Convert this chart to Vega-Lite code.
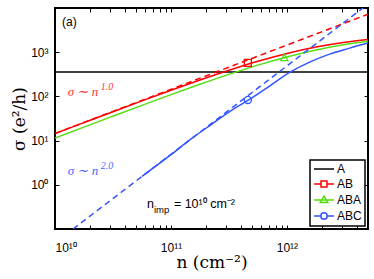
{
  "$schema": "https://vega.github.io/schema/vega-lite/v6.json",
  "width": 313,
  "height": 221,
  "autosize": "none",
  "padding": {"left": 55, "top": 8, "right": 6, "bottom": 50},
  "background": "white",
  "config": {
    "view": {"stroke": "black", "strokeWidth": 2},
    "axis": {
      "domain": false, "grid": false, "tickColor": "black", "tickSize": -4, "tickWidth": 1,
      "labelColor": "black", "labelFont": "Liberation Sans", "labelFontSize": 12,
      "titleFont": "DejaVu Serif", "titleFontSize": 17, "titleFontWeight": "normal", "titleColor": "black"
    }
  },
  "datasets": {
    "curves": [
      {"series": "A", "n": 1e10, "s": 357}, {"series": "A", "n": 5e12, "s": 357},
      {"series": "AB", "n": 1e10, "s": 14.4}, {"series": "AB", "n": 1.778e10, "s": 25.5}, {"series": "AB", "n": 3.162e10, "s": 45.1},
      {"series": "AB", "n": 5.623e10, "s": 79.1}, {"series": "AB", "n": 1e11, "s": 137.5}, {"series": "AB", "n": 1.778e11, "s": 235},
      {"series": "AB", "n": 3.162e11, "s": 391}, {"series": "AB", "n": 5.623e11, "s": 624}, {"series": "AB", "n": 1e12, "s": 939},
      {"series": "AB", "n": 1.778e12, "s": 1311}, {"series": "AB", "n": 3.162e12, "s": 1686}, {"series": "AB", "n": 5e12, "s": 1950},
      {"series": "ABA", "n": 1e10, "s": 11.4}, {"series": "ABA", "n": 1.778e10, "s": 20.2}, {"series": "ABA", "n": 3.162e10, "s": 35.7},
      {"series": "ABA", "n": 5.623e10, "s": 62.8}, {"series": "ABA", "n": 1e11, "s": 109.5}, {"series": "ABA", "n": 1.778e11, "s": 188},
      {"series": "ABA", "n": 3.162e11, "s": 315}, {"series": "ABA", "n": 5.623e11, "s": 510}, {"series": "ABA", "n": 1e12, "s": 780},
      {"series": "ABA", "n": 1.778e12, "s": 1120}, {"series": "ABA", "n": 3.162e12, "s": 1490}, {"series": "ABA", "n": 5e12, "s": 1765},
      {"series": "ABC", "n": 5.623e10, "s": 1.55}, {"series": "ABC", "n": 1e11, "s": 4.8}, {"series": "ABC", "n": 1.46e11, "s": 10.5},
      {"series": "ABC", "n": 2.239e11, "s": 23.4}, {"series": "ABC", "n": 3.228e11, "s": 46}, {"series": "ABC", "n": 4.634e11, "s": 82},
      {"series": "ABC", "n": 7.13e11, "s": 174}, {"series": "ABC", "n": 1.072e12, "s": 357}, {"series": "ABC", "n": 1.585e12, "s": 603},
      {"series": "ABC", "n": 2.239e12, "s": 871}, {"series": "ABC", "n": 3.162e12, "s": 1148}, {"series": "ABC", "n": 3.981e12, "s": 1380},
      {"series": "ABC", "n": 5e12, "s": 1622}
    ],
    "dashed": [
      {"series": "AB", "n": 1e10, "s": 14.5}, {"series": "AB", "n": 5e12, "s": 7250},
      {"series": "ABC", "n": 1.43e10, "s": 0.1}, {"series": "ABC", "n": 4.52e12, "s": 10000}
    ],
    "markers": [
      {"series": "AB", "n": 4.6e11, "s": 575},
      {"series": "ABA", "n": 9.5e11, "s": 760},
      {"series": "ABC", "n": 4.6e11, "s": 83}
    ]
  },
  "layer": [
    {
      "data": {"name": "curves"},
      "mark": {"type": "line", "strokeWidth": 1.5, "interpolate": "monotone", "clip": true},
      "encoding": {
        "x": {"field": "n", "type": "quantitative",
          "scale": {"type": "log", "domain": [1e10, 5e12], "nice": false},
          "axis": {"orient": "bottom", "values": [1e10,2e10,3e10,4e10,5e10,6e10,7e10,8e10,9e10,1e11,2e11,3e11,4e11,5e11,6e11,7e11,8e11,9e11,1e12,2e12,3e12,4e12,5e12],
            "labelExpr": "datum.value == 1e10 ? '10¹⁰' : datum.value == 1e11 ? '10¹¹' : datum.value == 1e12 ? '10¹²' : ''",
            "labelPadding": 17, "title": "n (cm⁻²)", "titlePadding": 1}},
        "y": {"field": "s", "type": "quantitative",
          "scale": {"type": "log", "domain": [0.1, 10000], "nice": false},
          "axis": {"orient": "left", "values": [1, 10, 100, 1000],
            "labelExpr": "datum.value == 1 ? '10⁰' : datum.value == 10 ? '10¹' : datum.value == 100 ? '10²' : '10³'",
            "labelPadding": 11, "title": "σ (e²/h)", "titlePadding": 2}},
        "color": {"field": "series", "type": "nominal",
          "scale": {"domain": ["A", "AB", "ABA", "ABC"], "range": ["#000000", "#ff0000", "#55dd11", "#3355ff"]},
          "legend": {
            "orient": "bottom-right", "offset": 3, "title": null,
            "fillColor": "white", "strokeColor": "black", "padding": 3,
            "labelFont": "Liberation Sans", "labelFontSize": 12, "labelColor": "black", "labelOffset": 7,
            "symbolSize": 100, "symbolOffset": 5, "symbolStrokeWidth": 1.5, "rowPadding": 3,
            "encode": {
              "legend": {"update": {"strokeWidth": {"value": 1.5}}},
              "symbols": {"update": {
                "shape": {"signal": "datum.value === 'A' ? 'M-2,0H2' : datum.value === 'AB' ? 'M-2,0H-0.6M0.6,0H2M-0.6,-0.6H0.6V0.6H-0.6Z' : datum.value === 'ABA' ? 'M-2,0H2M0,-0.76L0.76,0.5H-0.76Z' : 'M-2,0H-0.64M0.64,0H2M0.64,0A0.64,0.64,0,1,1,-0.64,0A0.64,0.64,0,1,1,0.64,0'"},
                "fill": {"value": "transparent"}
              }}
            }
          }}
      }
    },
    {
      "data": {"name": "dashed"},
      "mark": {"type": "line", "strokeWidth": 1.5, "strokeDash": [6, 4], "clip": true},
      "encoding": {
        "x": {"field": "n", "type": "quantitative",
          "scale": {"type": "log", "domain": [1e10, 5e12], "nice": false},
          "axis": {"orient": "top", "values": [1e10,2e10,3e10,4e10,5e10,6e10,7e10,8e10,9e10,1e11,2e11,3e11,4e11,5e11,6e11,7e11,8e11,9e11,1e12,2e12,3e12,4e12,5e12], "labels": false, "title": null}},
        "y": {"field": "s", "type": "quantitative",
          "scale": {"type": "log", "domain": [0.1, 10000], "nice": false},
          "axis": {"orient": "right", "values": [1, 10, 100, 1000], "labels": false, "title": null}},
        "color": {"field": "series", "type": "nominal", "legend": null}
      }
    },
    {
      "data": {"name": "markers"},
      "mark": {"type": "point", "filled": false, "strokeWidth": 1.3, "size": 50, "opacity": 1},
      "encoding": {
        "x": {"field": "n", "type": "quantitative", "axis": null},
        "y": {"field": "s", "type": "quantitative", "axis": null},
        "color": {"field": "series", "type": "nominal", "legend": null},
        "shape": {"field": "series", "type": "nominal", "scale": {"domain": ["AB", "ABA", "ABC"], "range": ["square", "triangle-up", "circle"]}, "legend": null}
      }
    },
    {
      "data": {"values": [{"n": 1.29e10, "s": 127, "t": "σ ∼ n", "sup": "1.0"}]},
      "mark": {"type": "text", "align": "left", "baseline": "middle", "font": "Liberation Serif", "fontStyle": "italic", "fontSize": 13, "color": "#ff3333"},
      "encoding": {
        "x": {"field": "n", "type": "quantitative", "axis": null},
        "y": {"field": "s", "type": "quantitative", "axis": null},
        "text": {"field": "t"}
      }
    },
    {
      "data": {"values": [{"n": 1.29e10, "s": 127, "t": "σ ∼ n", "sup": "1.0"}]},
      "mark": {"type": "text", "align": "left", "baseline": "middle", "font": "Liberation Serif", "fontStyle": "italic", "fontSize": 10, "dx": 33, "dy": -5, "color": "#ff3333"},
      "encoding": {
        "x": {"field": "n", "type": "quantitative", "axis": null},
        "y": {"field": "s", "type": "quantitative", "axis": null},
        "text": {"field": "sup"}
      }
    },
    {
      "data": {"values": [{"n": 1.29e10, "s": 2.1, "t": "σ ∼ n", "sup": "2.0"}]},
      "mark": {"type": "text", "align": "left", "baseline": "middle", "font": "Liberation Serif", "fontStyle": "italic", "fontSize": 13, "color": "#4a66ff"},
      "encoding": {
        "x": {"field": "n", "type": "quantitative", "axis": null},
        "y": {"field": "s", "type": "quantitative", "axis": null},
        "text": {"field": "t"}
      }
    },
    {
      "data": {"values": [{"n": 1.29e10, "s": 2.1, "t": "σ ∼ n", "sup": "2.0"}]},
      "mark": {"type": "text", "align": "left", "baseline": "middle", "font": "Liberation Serif", "fontStyle": "italic", "fontSize": 10, "dx": 33, "dy": -5, "color": "#4a66ff"},
      "encoding": {
        "x": {"field": "n", "type": "quantitative", "axis": null},
        "y": {"field": "s", "type": "quantitative", "axis": null},
        "text": {"field": "sup"}
      }
    },
    {
      "data": {"values": [{"n": 6.2e10, "s": 0.36, "a": "n", "b": "imp", "c": "= 10¹⁰ cm⁻²"}]},
      "mark": {"type": "text", "align": "left", "baseline": "middle", "font": "Liberation Sans", "fontSize": 12.5, "color": "black"},
      "encoding": {
        "x": {"field": "n", "type": "quantitative", "axis": null},
        "y": {"field": "s", "type": "quantitative", "axis": null},
        "text": {"field": "a"}
      }
    },
    {
      "data": {"values": [{"n": 6.2e10, "s": 0.36, "a": "n", "b": "imp", "c": "= 10¹⁰ cm⁻²"}]},
      "mark": {"type": "text", "align": "left", "baseline": "middle", "font": "Liberation Sans", "fontSize": 9.5, "dx": 7, "dy": 6, "color": "black"},
      "encoding": {
        "x": {"field": "n", "type": "quantitative", "axis": null},
        "y": {"field": "s", "type": "quantitative", "axis": null},
        "text": {"field": "b"}
      }
    },
    {
      "data": {"values": [{"n": 6.2e10, "s": 0.36, "a": "n", "b": "imp", "c": "= 10¹⁰ cm⁻²"}]},
      "mark": {"type": "text", "align": "left", "baseline": "middle", "font": "Liberation Sans", "fontSize": 12.5, "dx": 27, "color": "black"},
      "encoding": {
        "x": {"field": "n", "type": "quantitative", "axis": null},
        "y": {"field": "s", "type": "quantitative", "axis": null},
        "text": {"field": "c"}
      }
    },
    {
      "data": {"values": [{"n": 1.15e10, "s": 4700, "t": "(a)"}]},
      "mark": {"type": "text", "align": "left", "baseline": "middle", "font": "Liberation Sans", "fontSize": 12, "color": "black"},
      "encoding": {
        "x": {"field": "n", "type": "quantitative", "axis": null},
        "y": {"field": "s", "type": "quantitative", "axis": null},
        "text": {"field": "t"}
      }
    }
  ],
  "resolve": {"axis": {"x": "independent", "y": "independent"}}
}
